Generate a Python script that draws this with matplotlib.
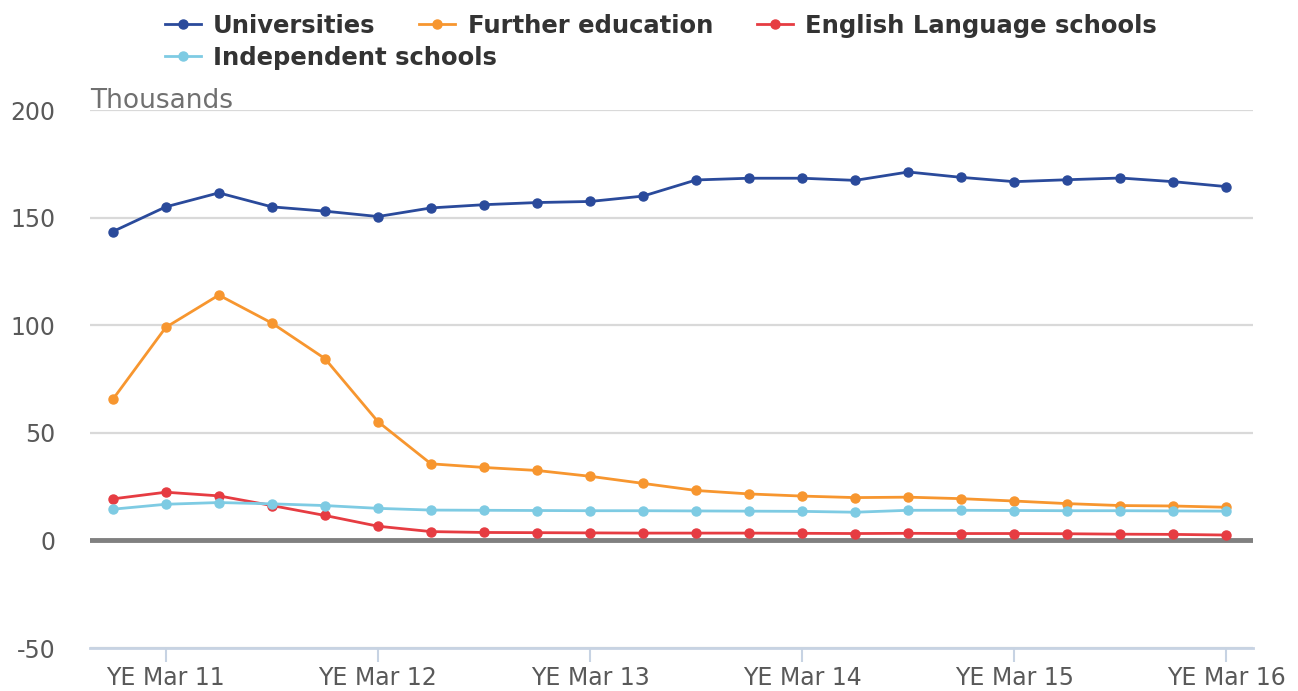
import numpy as np
import matplotlib.pyplot as plt

plt.rcParams['axes.unicode_minus'] = False

# quarterly, YE Dec 10 .. YE Mar 16
n_points = 22
tick_idx = [1, 5, 9, 13, 17, 21]
tick_labels = ['YE Mar 11', 'YE Mar 12', 'YE Mar 13', 'YE Mar 14', 'YE Mar 15', 'YE Mar 16']

universities = [143.5, 155, 161.5, 155, 153, 150.5, 154.5, 156, 157, 157.5, 160,
                167.5, 168.3, 168.3, 167.3, 171.2, 168.7, 166.7, 167.6, 168.4, 166.7, 164.4]
further_ed = [65.5, 99, 114, 101, 84.5, 55.2, 35.6, 33.9, 32.5, 29.8, 26.5,
              23.2, 21.6, 20.6, 19.9, 20.1, 19.4, 18.3, 17.1, 16.2, 16.0, 15.4]
english_lang = [19.3, 22.4, 20.7, 16.2, 11.6, 6.6, 4.1, 3.7, 3.6, 3.5, 3.4,
                3.4, 3.4, 3.3, 3.2, 3.3, 3.2, 3.2, 3.1, 2.9, 2.8, 2.5]
independent = [14.5, 16.8, 17.6, 17.0, 16.2, 14.9, 14.1, 14.0, 13.9, 13.8, 13.8,
               13.7, 13.6, 13.5, 13.1, 14.0, 14.0, 13.9, 13.8, 13.8, 13.7, 13.6]

series = [
    ('Universities', universities, '#2a4a9b'),
    ('Further education', further_ed, '#f7962f'),
    ('English Language schools', english_lang, '#e63c42'),
    ('Independent schools', independent, '#7ecbe3'),
]

fig = plt.figure(figsize=(12.98, 6.91), dpi=100)
ax = fig.add_axes([0.0693, 0.0622, 0.896, 0.7786])

x = np.arange(n_points)
lines = []
for name, vals, col in series:
    ln, = ax.plot(x, vals, color=col, lw=2, marker='o', ms=6.5, label=name, zorder=3)
    lines.append(ln)

ax.set_xlim(-0.43, 21.5)
ax.set_ylim(-50, 200)
ax.set_yticks([-50, 0, 50, 100, 150, 200])
ax.grid(axis='y', color='#d9d9d9', lw=1.6, zorder=0)
ax.axhline(0, color='#808080', lw=3.5, zorder=2)

ax.set_xticks(tick_idx)
ax.set_xticklabels(tick_labels)
ax.tick_params(axis='x', length=10, width=1.5, color='#c7d3e3', labelsize=17,
               labelcolor='#595959', pad=3)
ax.tick_params(axis='y', length=0, labelsize=17, labelcolor='#595959', pad=25)
for sp in ['top', 'right', 'left']:
    ax.spines[sp].set_visible(False)
ax.spines['bottom'].set_color('#c7d3e3')
ax.spines['bottom'].set_linewidth(2)

ax.annotate('Thousands', xy=(0, 1.0), xycoords='axes fraction', xytext=(0, 2),
            textcoords='offset pixels', fontsize=19, color='#707070',
            va='baseline', ha='left')

# legend: first row of three, then a second row
leg_kw = dict(frameon=False, prop={'size': 17.5, 'weight': 'bold'}, handlelength=1.48,
              handletextpad=0.5, columnspacing=1.8, borderpad=0, borderaxespad=0,
              loc='center left')
leg1 = fig.legend(lines[:3], [s[0] for s in series[:3]], ncol=3,
                  bbox_to_anchor=(165 / 1298, 1 - 26 / 691), **leg_kw)
leg2 = fig.legend(lines[3:], [series[3][0]], ncol=1,
                  bbox_to_anchor=(165 / 1298, 1 - 58 / 691), **leg_kw)
for leg in (leg1, leg2):
    for t in leg.get_texts():
        t.set_color('#333333')

fig.savefig('out.png', dpi=100)
